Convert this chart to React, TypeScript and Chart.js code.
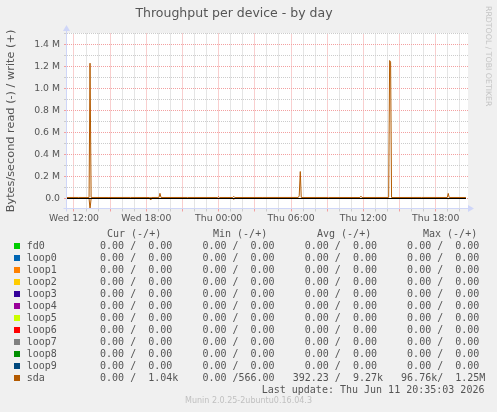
import React, { useEffect, useRef } from 'react';
import { Chart, registerables } from 'chart.js';

Chart.register(...registerables);

const TITLE = 'Throughput per device - by day';
const Y_TITLE = 'Bytes/second read (-) / write (+)';
const SIDE_MARK = 'RRDTOOL / TOBI OETIKER';
const FOOTER = 'Munin 2.0.25-2ubuntu0.16.04.3';
const LAST_UPDATE = 'Last update: Thu Jun 11 20:35:03 2026';

// x values: hours since Wed 00:00
const X_MIN = 11.42;
const X_MAX = 44.68;
const Y_MIN = -91000;
const Y_MAX = 1500000;
const yTickValues = [
  0, 100000, 200000, 300000, 400000, 500000, 600000, 700000,
  800000, 900000, 1000000, 1100000, 1200000, 1300000, 1400000, 1500000,
];

const sampleHours = [
  11.42, 12.4, 13.25, 13.33, 13.42, 14.9, 16.7, 18.28, 18.36, 18.45,
  19.05, 19.13, 19.22, 21.4, 23.9, 23.98, 24.07, 25.17, 25.25, 25.33,
  27.6, 30.6, 30.68, 30.77, 30.85, 33.1, 35.72, 35.8, 35.88, 38.1,
  38.18, 38.26, 38.34, 40.8, 42.96, 43.04, 43.12, 44.51,
];
const sdaWrite = [
  9100, 9300, 9000, 1230000, 9200, 9100, 9400, 9000, 9100, 9200,
  9300, 47000, 9100, 9200, 9100, 16000, 9200, 9100, 19000, 9000,
  9200, 9300, 24000, 245000, 9100, 9200, 9000, 21000, 9100, 9200,
  1254000, 1240000, 9000, 9300, 9100, 46000, 9200, 9100,
];
const sdaRead = [
  0, 0, 0, 96760, 0, 0, 0, 0, 14000, 0,
  0, 0, 0, 0, 0, 0, 0, 0, 9000, 0,
  0, 0, 0, 0, 0, 0, 0, 0, 0, 0,
  0, 0, 0, 0, 0, 2000, 0, 0,
];

const devices = ['fd0', 'loop0', 'loop1', 'loop2', 'loop3', 'loop4', 'loop5', 'loop6', 'loop7', 'loop8', 'loop9', 'sda'];
const deviceColors = ['#00CC00', '#0066B3', '#FF8000', '#FFCC00', '#330099', '#990099', '#CCFF00', '#FF0000', '#808080', '#008F00', '#00487D', '#B35A00'];
const legendCur = [
  '  0.00 /  0.00 ', '  0.00 /  0.00 ', '  0.00 /  0.00 ', '  0.00 /  0.00 ', '  0.00 /  0.00 ', '  0.00 /  0.00 ',
  '  0.00 /  0.00 ', '  0.00 /  0.00 ', '  0.00 /  0.00 ', '  0.00 /  0.00 ', '  0.00 /  0.00 ', '  0.00 /  1.04k',
];
const legendMin = [
  '  0.00 /  0.00 ', '  0.00 /  0.00 ', '  0.00 /  0.00 ', '  0.00 /  0.00 ', '  0.00 /  0.00 ', '  0.00 /  0.00 ',
  '  0.00 /  0.00 ', '  0.00 /  0.00 ', '  0.00 /  0.00 ', '  0.00 /  0.00 ', '  0.00 /  0.00 ', '  0.00 /566.00 ',
];
const legendAvg = [
  '  0.00 /  0.00 ', '  0.00 /  0.00 ', '  0.00 /  0.00 ', '  0.00 /  0.00 ', '  0.00 /  0.00 ', '  0.00 /  0.00 ',
  '  0.00 /  0.00 ', '  0.00 /  0.00 ', '  0.00 /  0.00 ', '  0.00 /  0.00 ', '  0.00 /  0.00 ', '392.23 /  9.27k',
];
const legendMax = [
  '  0.00 /  0.00 ', '  0.00 /  0.00 ', '  0.00 /  0.00 ', '  0.00 /  0.00 ', '  0.00 /  0.00 ', '  0.00 /  0.00 ',
  '  0.00 /  0.00 ', '  0.00 /  0.00 ', '  0.00 /  0.00 ', '  0.00 /  0.00 ', '  0.00 /  0.00 ', ' 96.76k/  1.25M',
];
const legendHeaders = ['Cur (-/+)', 'Min (-/+)', 'Avg (-/+)', 'Max (-/+)'];
const headerX = [107, 213, 317, 423];

const FONT_COLOR = '#555555';
const MINOR_GRID = '#cccccc';
const MAJOR_GRID = '#f3a0a0';
const AXIS_COLOR = '#CFD6F8';

function xLabel(v: number): string {
  if (Math.abs(v % 6) > 1e-6) return '';
  const day = v < 24 ? 'Wed' : 'Thu';
  const hh = String(((v % 24) + 24) % 24).padStart(2, '0');
  return `${day} ${hh}:00`;
}

function yLabel(v: number): string {
  if (Math.abs(v % 200000) > 1e-6) return '';
  if (v === 0) return '0.0';
  return (v / 1e6).toFixed(1) + ' M';
}

const muninPlugin = {
  id: 'muninFrame',
  beforeDraw(chart: any) {
    const { ctx, chartArea: a, width, height } = chart;
    ctx.save();
    ctx.fillStyle = '#f0f0f0';
    ctx.fillRect(0, 0, width, height);
    ctx.fillStyle = '#ffffff';
    ctx.fillRect(a.left, Math.floor(a.top), a.right - a.left, a.bottom - Math.floor(a.top));
    ctx.restore();
  },
  afterDraw(chart: any) {
    const { ctx, chartArea: a } = chart;
    const x0 = a.left - 0.5;
    const y0 = a.bottom;
    ctx.save();
    ctx.strokeStyle = AXIS_COLOR;
    ctx.fillStyle = AXIS_COLOR;
    ctx.lineWidth = 1;
    ctx.beginPath();
    ctx.moveTo(x0, y0 + 3);
    ctx.lineTo(x0, 31);
    ctx.moveTo(x0 - 3, y0);
    ctx.lineTo(a.right, y0);
    ctx.stroke();
    ctx.beginPath();
    ctx.moveTo(x0 - 3.5, 31);
    ctx.lineTo(x0 + 3.5, 31);
    ctx.lineTo(x0, 25);
    ctx.closePath();
    ctx.fill();
    ctx.beginPath();
    ctx.moveTo(a.right, y0 - 3.5);
    ctx.lineTo(a.right, y0 + 3.5);
    ctx.lineTo(a.right + 6, y0);
    ctx.closePath();
    ctx.fill();
    ctx.restore();
  },
};

export default function App() {
  const canvasRef = useRef<HTMLCanvasElement | null>(null);

  useEffect(() => {
    const canvas = canvasRef.current;
    if (!canvas) return;
    const last = sampleHours.length - 1;
    const chart = new Chart(canvas, {
      type: 'line',
      data: {
        datasets: [
          {
            label: 'sda write',
            data: sampleHours.map((h, i) => ({ x: h, y: sdaWrite[i] })),
            borderColor: '#B35A00',
            borderWidth: 1,
            pointRadius: 0,
            tension: 0,
            fill: false,
          },
          {
            label: 'zero',
            data: [
              { x: sampleHours[0], y: 0 },
              { x: sampleHours[last], y: 0 },
            ],
            borderColor: '#000000',
            borderWidth: 1,
            pointRadius: 0,
            fill: false,
          },
          {
            label: 'sda read',
            data: sampleHours.map((h, i) => ({ x: h, y: -sdaRead[i] })),
            borderColor: '#B35A00',
            borderWidth: 1,
            pointRadius: 0,
            tension: 0,
            fill: false,
          },
        ],
      },
      options: {
        animation: false,
        responsive: false,
        events: [],
        layout: { padding: { left: 0, right: 29, top: 0, bottom: 183.5 } },
        plugins: {
          legend: { display: false },
          tooltip: { enabled: false },
          title: {
            display: true,
            text: TITLE,
            color: FONT_COLOR,
            font: { family: 'DejaVu Sans', size: 12.5, weight: 'normal' },
            padding: { top: 6.5, bottom: 12 },
          },
        },
        scales: {
          x: {
            type: 'linear',
            min: X_MIN,
            max: X_MAX,
            afterFit: (s: any) => {
              s.height = 20;
            },
            ticks: {
              stepSize: 1,
              autoSkip: false,
              includeBounds: false,
              maxRotation: 0,
              minRotation: 0,
              padding: 1.5,
              color: FONT_COLOR,
              font: { family: 'DejaVu Sans', size: 9.3 },
              callback: (v: any) => xLabel(Number(v)),
            },
            grid: {
              color: (c: any) => (c.tick && Math.abs(c.tick.value % 3) < 1e-6 ? MAJOR_GRID : MINOR_GRID),
              tickColor: (c: any) => (c.tick && Math.abs(c.tick.value % 3) < 1e-6 ? MAJOR_GRID : MINOR_GRID),
              tickLength: 3,
              lineWidth: 1,
            },
            border: { display: false, dash: [1, 1] },
          },
          y: {
            type: 'linear',
            min: Y_MIN,
            max: Y_MAX,
            afterBuildTicks: (s: any) => {
              s.ticks = yTickValues.map((v) => ({ value: v }));
            },
            afterFit: (s: any) => {
              s.width = 67;
            },
            ticks: {
              autoSkip: false,
              padding: 4,
              color: FONT_COLOR,
              font: { family: 'DejaVu Sans', size: 9.3 },
              callback: (v: any) => yLabel(Number(v)),
            },
            title: {
              display: true,
              text: Y_TITLE,
              color: FONT_COLOR,
              font: { family: 'DejaVu Sans', size: 11.3, weight: 'normal' },
              padding: { top: 4, bottom: 0 },
            },
            grid: {
              color: (c: any) => (c.tick && Math.abs(c.tick.value % 200000) < 1e-6 ? MAJOR_GRID : MINOR_GRID),
              tickColor: (c: any) => (c.tick && Math.abs(c.tick.value % 200000) < 1e-6 ? MAJOR_GRID : MINOR_GRID),
              tickLength: 3,
              lineWidth: 1,
            },
            border: { display: false, dash: [1, 1] },
          },
        },
      },
      plugins: [muninPlugin],
    } as any);
    return () => chart.destroy();
  }, []);

  const mono: React.CSSProperties = {
    position: 'absolute',
    fontFamily: '"DejaVu Sans Mono", monospace',
    fontSize: 10,
    lineHeight: '12px',
    whiteSpace: 'pre',
    color: FONT_COLOR,
    margin: 0,
  };
  const rowTop = (i: number) => 227.7 + 12 * i;

  return (
    <div
      style={{
        position: 'fixed',
        left: 0,
        top: 0,
        width: 497,
        height: 412,
        background: '#f0f0f0',
        overflow: 'hidden',
      }}
    >
      <canvas ref={canvasRef} width={497} height={412} style={{ position: 'absolute', left: 0, top: 0, width: 497, height: 412 }} />
      <div
        style={{
          position: 'absolute',
          left: 483,
          top: 6,
          width: 11,
          writingMode: 'vertical-rl',
          fontFamily: '"DejaVu Sans", sans-serif',
          fontSize: 7.8,
          lineHeight: '11px',
          color: '#c4c4c4',
          whiteSpace: 'nowrap',
        }}
      >
        {SIDE_MARK}
      </div>
      {legendHeaders.map((h, i) => (
        <div key={h} style={{ ...mono, left: headerX[i], top: rowTop(0) }}>
          {h}
        </div>
      ))}
      {devices.map((d, i) => (
        <React.Fragment key={d}>
          <div
            style={{
              position: 'absolute',
              left: 14,
              top: 242.5 + 12 * i,
              width: 6,
              height: 6,
              background: deviceColors[i],
            }}
          />
          <div style={{ ...mono, left: 26.7, top: rowTop(i + 1) }}>{d}</div>
          <div style={{ ...mono, left: 88, top: rowTop(i + 1) }}>
            {legendCur[i] + '  ' + legendMin[i] + '  ' + legendAvg[i] + '  ' + legendMax[i]}
          </div>
        </React.Fragment>
      ))}
      <div style={{ ...mono, left: 261.7, top: rowTop(13) }}>{LAST_UPDATE}</div>
      <div
        style={{
          position: 'absolute',
          left: 0,
          width: 497,
          top: 396,
          textAlign: 'center',
          fontFamily: '"DejaVu Sans", sans-serif',
          fontSize: 8,
          lineHeight: '10px',
          color: '#c0c0c0',
        }}
      >
        {FOOTER}
      </div>
    </div>
  );
}
